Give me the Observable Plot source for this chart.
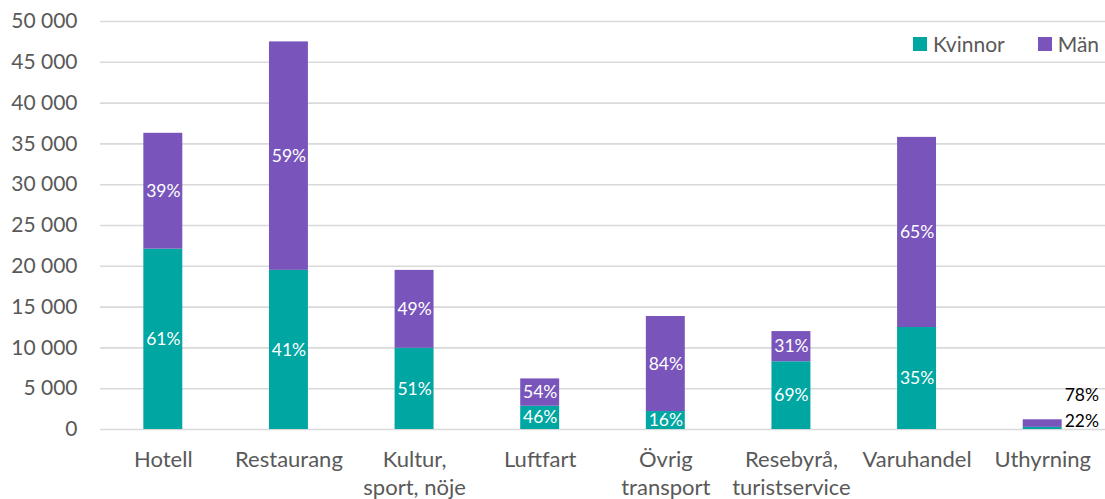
<!DOCTYPE html>
<html>
<head>
<meta charset="utf-8">
<script src="https://cdn.jsdelivr.net/npm/d3@7"></script>
<script src="https://cdn.jsdelivr.net/npm/@observablehq/plot@0.6"></script>
<style>
  body { margin: 0; background: #fff; font-family: Lato, sans-serif; }
  #wrap { position: relative; width: 1105px; height: 499px; overflow: hidden; }
  .legend { position: absolute; top: 31px; left: 913px; display: flex; align-items: center; font-size: 21px; color: #595959; }
  .legend .item { display: flex; align-items: center; margin-right: 33px; }
  .legend .sw { width: 14px; height: 14px; margin-right: 6px; }
</style>
</head>
<body>
<div id="wrap"></div>
<script>
const categories = ["Hotell", "Restaurang", "Kultur,\nsport, nöje", "Luftfart", "Övrig\ntransport", "Resebyrå,\nturistservice", "Varuhandel", "Uthyrning"];
const series = ["Kvinnor", "Män"];
const colors = ["#00A6A1", "#7955BB"];
const kvinnor = [22100, 19500, 9950, 2850, 2200, 8300, 12500, 260];
const man = [14200, 28000, 9550, 3350, 11650, 3700, 23300, 930];
const pctKvinnor = ["61%", "41%", "51%", "46%", "16%", "69%", "35%", "22%"];
const pctMan = ["39%", "59%", "49%", "54%", "84%", "31%", "65%", "78%"];
const yTicks = [0, 5000, 10000, 15000, 20000, 25000, 30000, 35000, 40000, 45000, 50000];

const data = [];
categories.forEach((c, i) => {
  data.push({category: c, sex: "Kvinnor", value: kvinnor[i], pct: pctKvinnor[i], idx: i});
  data.push({category: c, sex: "Män", value: man[i], pct: pctMan[i], idx: i});
});
const outside = "Uthyrning";
const inside = data.filter(d => d.category !== outside);
const totals = categories.map((c, i) => ({category: c, total: kvinnor[i] + man[i]}));
const outRows = totals.filter(d => d.category === outside);

const fmt = d3.formatLocale({decimal: ",", thousands: " ", grouping: [3], currency: ["", ""]}).format(",d");

const chart = Plot.plot({
  width: 1105,
  height: 499,
  marginLeft: 100,
  marginRight: 0,
  marginTop: 21,
  marginBottom: 70,
  style: {fontFamily: "Lato, sans-serif", fontSize: "21px", color: "#595959", background: "#fff"},
  x: {domain: categories, paddingInner: 0.69, paddingOuter: 0.345, round: false, label: null},
  y: {domain: [0, 50000], label: null},
  color: {domain: series, range: colors},
  marks: [
    Plot.gridY(yTicks, {stroke: "#d9d9d9", strokeOpacity: 1, strokeWidth: 1.6}),
    Plot.axisY(yTicks, {tickSize: 0, tickPadding: 23, tickFormat: fmt, fontSize: 21, fill: "#595959", label: null}),
    Plot.axisX({tickSize: 0, tickPadding: 17, fontSize: 22, fill: "#595959", lineHeight: 1.3, label: null}),
    Plot.barY(data, Plot.stackY({x: "category", y: "value", fill: "sex", z: "sex", order: series})),
    Plot.text(inside, Plot.stackY({x: "category", y: "value", z: "sex", order: series, text: "pct", fill: "white", fontSize: 17.5})),
    Plot.text(outRows, {x: "category", y: "total", text: () => pctKvinnor[7], textAnchor: "start", dx: 22, dy: 2, fill: "#000", fontSize: 17.5}),
    Plot.text(outRows, {x: "category", y: "total", text: () => pctMan[7], textAnchor: "start", dx: 22, dy: -24, fill: "#000", fontSize: 17.5})
  ]
});

const wrap = document.getElementById("wrap");
wrap.appendChild(chart);
const legend = document.createElement("div");
legend.className = "legend";
series.forEach((s, i) => {
  const item = document.createElement("div");
  item.className = "item";
  const sw = document.createElement("span");
  sw.className = "sw";
  sw.style.background = colors[i];
  const t = document.createElement("span");
  t.textContent = s;
  item.appendChild(sw);
  item.appendChild(t);
  legend.appendChild(item);
});
wrap.appendChild(legend);
</script>
</body>
</html>
